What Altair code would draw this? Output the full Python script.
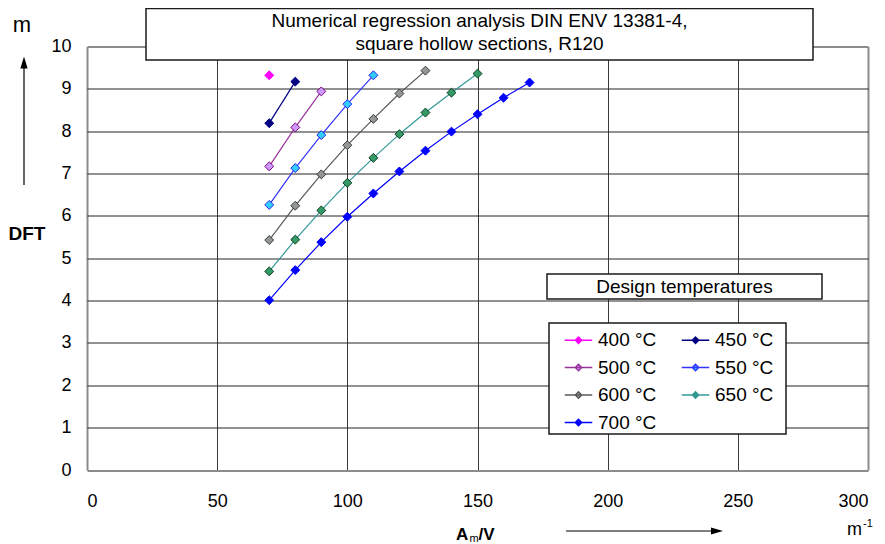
import altair as alt
import pandas as pd

# ---------------- data ----------------
series = ["400 °C", "450 °C", "500 °C", "550 °C", "600 °C", "650 °C", "700 °C"]

x_400 = [70]
y_400 = [9.32]
x_450 = [70, 80]
y_450 = [8.19, 9.17]
x_500 = [70, 80, 90]
y_500 = [7.17, 8.09, 8.94]
x_550 = [70, 80, 90, 100, 110]
y_550 = [6.26, 7.13, 7.91, 8.64, 9.32]
x_600 = [70, 80, 90, 100, 110, 120, 130]
y_600 = [5.43, 6.24, 6.98, 7.67, 8.29, 8.89, 9.43]
x_650 = [70, 80, 90, 100, 110, 120, 130, 140, 150]
y_650 = [4.69, 5.44, 6.13, 6.78, 7.37, 7.93, 8.44, 8.91, 9.36]
x_700 = [70, 80, 90, 100, 110, 120, 130, 140, 150, 160, 170]
y_700 = [4.01, 4.72, 5.38, 5.98, 6.53, 7.05, 7.54, 7.99, 8.40, 8.79, 9.15]

x_ticks = [0, 50, 100, 150, 200, 250, 300]
y_ticks = [0, 1, 2, 3, 4, 5, 6, 7, 8, 9, 10]

line_colors = ["#FF00FF", "#000080", "#993399", "#3333FF", "#595959", "#339999", "#0000FF"]
fill_colors = ["#FF00FF", "#000080", "#CC99FF", "#33CCFF", "#969696", "#339966", "#0000FF"]
edge_colors = ["#FF00FF", "#000080", "#800080", "#2222EE", "#2F3F2F", "#0F3F20", "#0000FF"]

title_line1 = "Numerical regression analysis DIN ENV 13381-4,"
title_line2 = "square hollow sections, R120"
legend_heading = "Design temperatures"
y_title = "DFT"
y_unit = "m"
x_title_a = "A"
x_title_sub = "m"
x_title_b = "/V"
x_unit = "m"
x_unit_sup = "-1"

xs = [x_400, x_450, x_500, x_550, x_600, x_650, x_700]
ys = [y_400, y_450, y_500, y_550, y_600, y_650, y_700]
rows = []
for s, xv, yv in zip(series, xs, ys):
    for a, b in zip(xv, yv):
        rows.append({"series": s, "x": a, "y": b})
df = pd.DataFrame(rows)

# the legend fills its two columns top-down, so list entries column by column
legend_order = [0, 2, 4, 6, 1, 3, 5]
dom = [series[i] for i in legend_order]
line_rng = [line_colors[i] for i in legend_order]
fill_rng = [fill_colors[i] for i in legend_order]
edge_rng = [edge_colors[i] for i in legend_order]

FONT = "Liberation Sans"

# ---------------- scales / axes ----------------
xenc = alt.X(
    "x:Q",
    scale=alt.Scale(domain=[0, 300], nice=False),
    axis=alt.Axis(
        values=x_ticks, title=None, domain=False, ticks=False,
        labelFont=FONT, labelFontSize=18, labelColor="black", labelPadding=22,
        gridColor=alt.condition("datum.value == 0 || datum.value == 300", alt.value("#8c8c8c"), alt.value("#3a3a3a")),
        gridWidth=alt.condition("datum.value == 0 || datum.value == 300", alt.value(2), alt.value(1)),
        gridOpacity=1,
    ),
)
yenc = alt.Y(
    "y:Q",
    scale=alt.Scale(domain=[0, 10], nice=False),
    axis=alt.Axis(
        values=y_ticks, title=None, domain=False, ticks=False,
        labelFont=FONT, labelFontSize=18, labelColor="black", labelPadding=16,
        gridColor=alt.condition("datum.value == 0 || datum.value == 10", alt.value("#8c8c8c"), alt.value("#222222")),
        gridWidth=alt.condition("datum.value == 0 || datum.value == 10", alt.value(2), alt.value(1)),
        gridOpacity=1,
    ),
)

leg = alt.Legend(
    title=None, orient="none", legendX=477, legendY=279, columns=2,
    symbolType="M-1,0H1M0,-0.24L0.24,0L0,0.24L-0.24,0Z",
    symbolSize=756, symbolStrokeWidth=1.3, symbolOpacity=1,
    labelFont=FONT, labelFontSize=19, labelColor="black", labelOffset=5,
    columnPadding=22, rowPadding=2.5, padding=0,
)

lines = alt.Chart(df).mark_line(strokeWidth=1.2).encode(
    x=xenc, y=yenc,
    color=alt.Color("series:N", scale=alt.Scale(domain=dom, range=line_rng), legend=leg),
)
points = alt.Chart(df).mark_point(shape="diamond", filled=True, size=80, strokeWidth=1, opacity=1).encode(
    x=xenc, y=yenc,
    fill=alt.Fill("series:N", scale=alt.Scale(domain=dom, range=fill_rng), legend=leg),
    stroke=alt.Stroke("series:N", scale=alt.Scale(domain=dom, range=edge_rng), legend=None),
)

one = pd.DataFrame({"k": [0]})


def box(x1, x2, y1, y2):
    return alt.Chart(one).mark_rect(fill="white", stroke="#1a1a1a", strokeWidth=1.5).encode(
        x=alt.value(x1), x2=alt.value(x2), y=alt.value(y1), y2=alt.value(y2))


def label(txt, x, y, size=18, bold=False, align="center", baseline="middle"):
    return alt.Chart(one).mark_text(
        text=txt, font=FONT, fontSize=size, fontWeight="bold" if bold else "normal",
        align=align, baseline=baseline, color="black",
    ).encode(x=alt.value(x), y=alt.value(y))


def rule(x1, x2, y1, y2):
    return alt.Chart(one).mark_rule(color="black", strokeWidth=1.2).encode(
        x=alt.value(x1), x2=alt.value(x2), y=alt.value(y1), y2=alt.value(y2))


def head(path, x, y):
    return alt.Chart(one).mark_point(shape=path, filled=True, size=144, color="black", opacity=1).encode(
        x=alt.value(x), y=alt.value(y))


layers = [
    box(59, 726, -38, 13.5),
    box(460, 735, 227.5, 252.5),
    box(462, 699, 276.5, 387.5),
    lines,
    points,
    label(title_line1, 392.5, -25.5, size=19),
    label(title_line2, 392.5, -2.5, size=19),
    label(legend_heading, 597.5, 240, size=19),
    label(y_unit, -65, -14.5, size=22, baseline="alphabetic"),
    label(y_title, -60, 187.5, size=19, bold=True),
    rule(-63, -63, 19.5, 138.5),
    head("M0,-1L0.6,1L-0.6,1Z", -63, 16),
    label(x_title_a, 369, 493.5, size=17, bold=True, align="left", baseline="alphabetic"),
    label(x_title_sub, 382.5, 495, size=11, bold=False, align="left", baseline="alphabetic"),
    label(x_title_b, 391.5, 493.5, size=17, bold=True, align="left", baseline="alphabetic"),
    rule(479, 628, 484.5, 484.5),
    head("M1,0L-1,-0.6L-1,0.6Z", 630, 484.5),
    label(x_unit, 760, 488.5, size=18, align="left", baseline="alphabetic"),
    label(x_unit_sup, 776, 480.5, size=11, align="left", baseline="alphabetic"),
]

chart = alt.layer(*layers).properties(
    width=781, height=423.5,
    autosize=alt.AutoSizeParams(type="none"),
    padding={"left": 79, "top": 38.5, "right": 9, "bottom": 74},
    background="white",
).configure_view(stroke=None)

chart.save("out.html", embed_options={"renderer": "svg", "actions": False})
